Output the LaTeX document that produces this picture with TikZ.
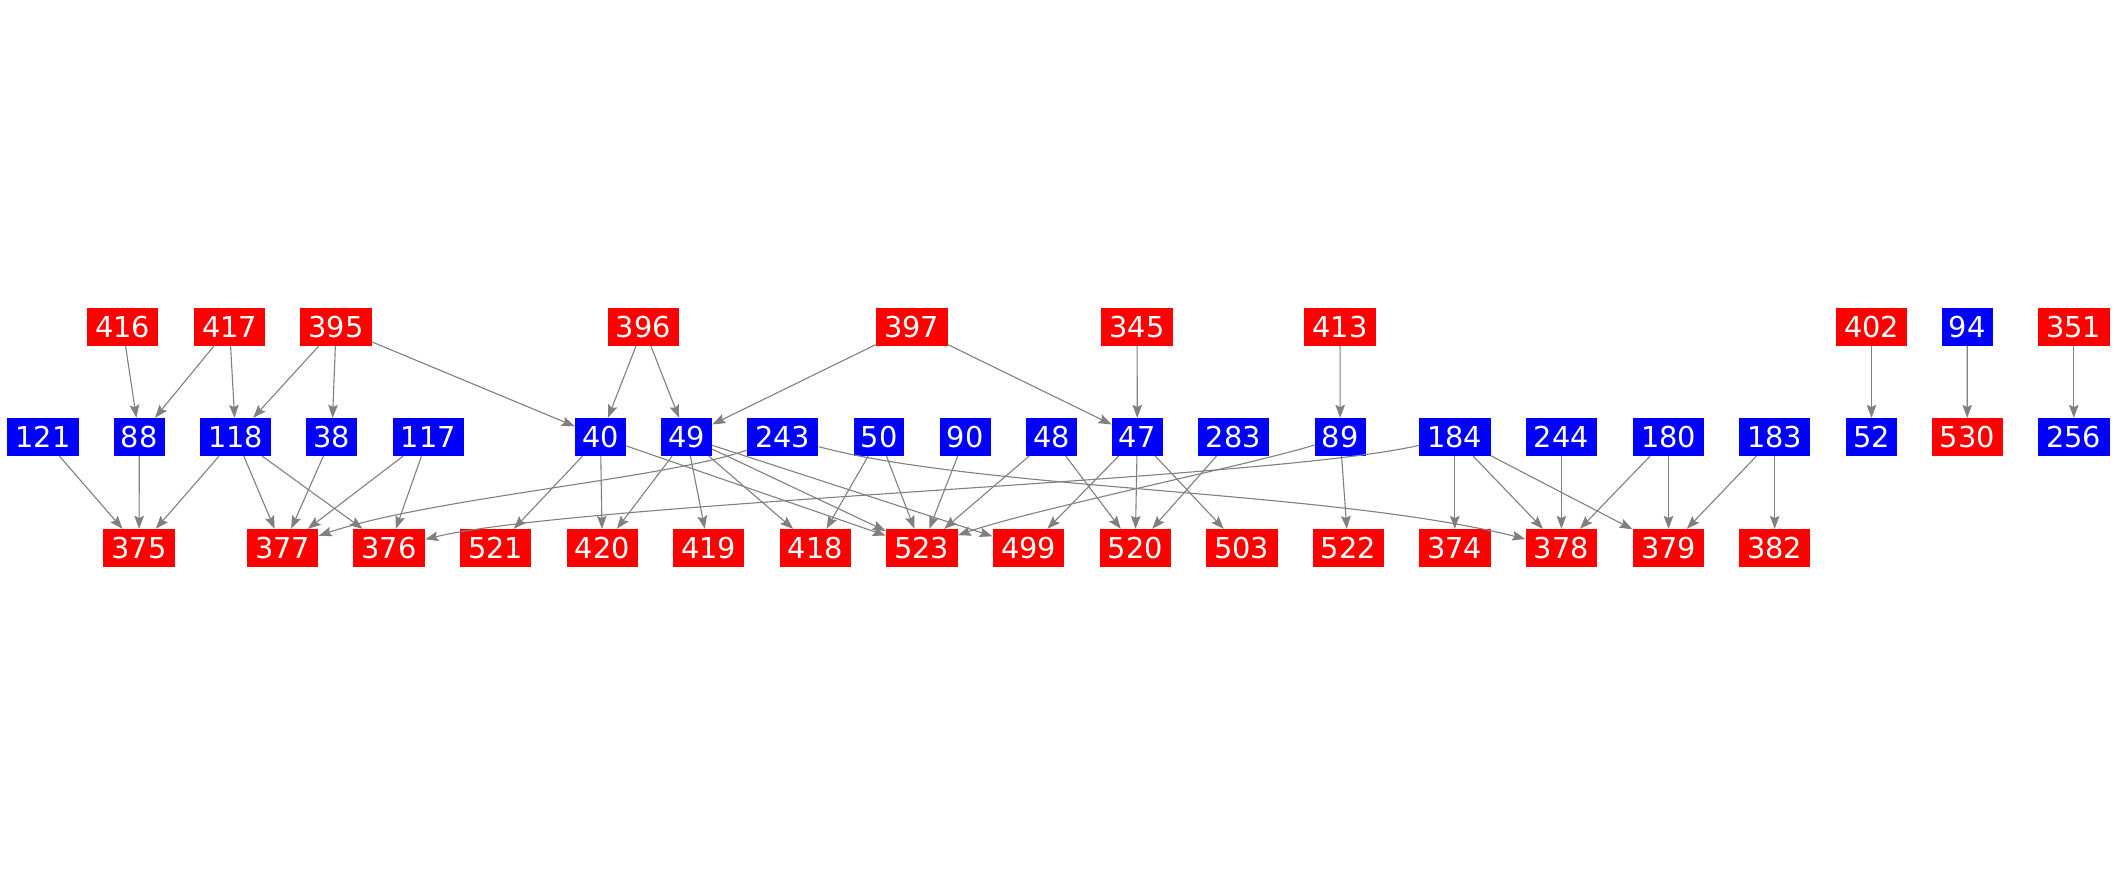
\documentclass[tikz,border=0pt]{standalone}
\usepackage{fontspec}
\setmainfont{DejaVu Sans}
\usepackage{tikz}
\usetikzlibrary{arrows.meta}

\begin{document}
\begin{tikzpicture}[
  x=0.5pt, y=-0.5pt,
  font=\fontsize{14.4}{17}\selectfont,
  redbox/.style={fill={rgb,255:red,255;green,0;blue,0}, text=white, inner sep=0pt,
                 minimum width=35.7pt, minimum height=18.75pt},
  bluebox/.style={redbox, fill={rgb,255:red,0;green,0;blue,255}},
  two/.style={minimum width=25.35pt},
  arr/.style={-{Stealth[length=6.5pt, width=4.8pt, inset=1.1pt]}, draw=gray, line width=0.55pt}
]
\useasboundingbox (0,0) rectangle (2117,875);
% top row
\node[redbox]  (n416) at (122.7,327)  {416};
\node[redbox]  (n417) at (229.5,327)  {417};
\node[redbox]  (n395) at (336.1,327)  {395};
\node[redbox]  (n396) at (643.4,327)  {396};
\node[redbox]  (n397) at (911.8,327)  {397};
\node[redbox]  (n345) at (1137.1,327) {345};
\node[redbox]  (n413) at (1340,327)   {413};
\node[redbox]  (n402) at (1871.5,327) {402};
\node[bluebox, two] (n94) at (1967.3,327) {94};
\node[redbox]  (n351) at (2073.8,327) {351};
% middle row
\node[bluebox]      (n121) at (42.9,437)   {121};
\node[bluebox, two] (n88)  at (139.3,437)  {88};
\node[bluebox]      (n118) at (235.7,437)  {118};
\node[bluebox, two] (n38)  at (331.8,437)  {38};
\node[bluebox]      (n117) at (428.2,437)  {117};
\node[bluebox, two] (n40)  at (600.5,437)  {40};
\node[bluebox, two] (n49)  at (686.6,437)  {49};
\node[bluebox]      (n243) at (782.7,437)  {243};
\node[bluebox, two] (n50)  at (879.1,437)  {50};
\node[bluebox, two] (n90)  at (965.2,437)  {90};
\node[bluebox, two] (n48)  at (1051.4,437) {48};
\node[bluebox, two] (n47)  at (1137.3,437) {47};
\node[bluebox]      (n283) at (1233.4,437) {283};
\node[bluebox, two] (n89)  at (1340.2,437) {89};
\node[bluebox]      (n184) at (1454.8,437) {184};
\node[bluebox]      (n244) at (1561.4,437) {244};
\node[bluebox]      (n180) at (1668.5,437) {180};
\node[bluebox]      (n183) at (1774.7,437) {183};
\node[bluebox, two] (n52)  at (1871.5,437) {52};
\node[redbox]       (n530) at (1967.2,437) {530};
\node[bluebox]      (n256) at (2073.8,437) {256};
% bottom row
\node[redbox] (n375) at (139.1,548)  {375};
\node[redbox] (n377) at (282.7,548)  {377};
\node[redbox] (n376) at (389.1,548)  {376};
\node[redbox] (n521) at (495.7,548)  {521};
\node[redbox] (n420) at (602.3,548)  {420};
\node[redbox] (n419) at (708.6,548)  {419};
\node[redbox] (n418) at (815.4,548)  {418};
\node[redbox] (n523) at (921.8,548)  {523};
\node[redbox] (n499) at (1028.6,548) {499};
\node[redbox] (n520) at (1135.2,548) {520};
\node[redbox] (n503) at (1241.8,548) {503};
\node[redbox] (n522) at (1348.2,548) {522};
\node[redbox] (n374) at (1454.8,548) {374};
\node[redbox] (n378) at (1561.4,548) {378};
\node[redbox] (n379) at (1668.5,548) {379};
\node[redbox] (n382) at (1774.7,548) {382};
% top -> middle
\draw[arr] (n416) -- (n88);
\draw[arr] (n417) -- (n88);
\draw[arr] (n417) -- (n118);
\draw[arr] (n395) -- (n118);
\draw[arr] (n395) -- (n38);
\draw[arr] (n395) -- (n40);
\draw[arr] (n396) -- (n40);
\draw[arr] (n396) -- (n49);
\draw[arr] (n397) -- (n49);
\draw[arr] (n397) -- (n47);
\draw[arr] (n345) -- (n47);
\draw[arr] (n413) -- (n89);
\draw[arr] (n402) -- (n52);
\draw[arr] (n94)  -- (n530);
\draw[arr] (n351) -- (n256);
% middle -> bottom
\draw[arr] (n121) -- (n375);
\draw[arr] (n88)  -- (n375);
\draw[arr] (n118) -- (n375);
\draw[arr] (n118) -- (n377);
\draw[arr] (n118) -- (n376);
\draw[arr] (n38)  -- (n377);
\draw[arr] (n117) -- (n377);
\draw[arr] (n117) -- (n376);
\draw[arr] (n40)  -- (n521);
\draw[arr] (n40)  -- (n420);
\draw[arr] (n40)  -- (n523);
\draw[arr] (n49)  -- (n420);
\draw[arr] (n49)  -- (n419);
\draw[arr] (n49)  -- (n418);
\draw[arr] (n49)  -- (n523);
\draw[arr] (n49)  -- (n499);
\draw[arr] (n243) .. controls (670,478) and (430,498) .. (n377);
\draw[arr] (n243) .. controls (980,490) and (1330,490) .. (n378);
\draw[arr] (n50)  -- (n418);
\draw[arr] (n50)  -- (n523);
\draw[arr] (n90)  -- (n523);
\draw[arr] (n48)  -- (n523);
\draw[arr] (n48)  -- (n520);
\draw[arr] (n47)  -- (n499);
\draw[arr] (n47)  -- (n520);
\draw[arr] (n47)  -- (n503);
\draw[arr] (n283) -- (n520);
\draw[arr] (n89) .. controls (1250,465) and (1030,510) .. (n523);
\draw[arr] (n89)  -- (n522);
\draw[arr] (n184) .. controls (1270,480) and (580,502) .. (n376);
\draw[arr] (n184) -- (n374);
\draw[arr] (n184) -- (n378);
\draw[arr] (n184) -- (n379);
\draw[arr] (n244) -- (n378);
\draw[arr] (n180) -- (n378);
\draw[arr] (n180) -- (n379);
\draw[arr] (n183) -- (n379);
\draw[arr] (n183) -- (n382);
\end{tikzpicture}
\end{document}
